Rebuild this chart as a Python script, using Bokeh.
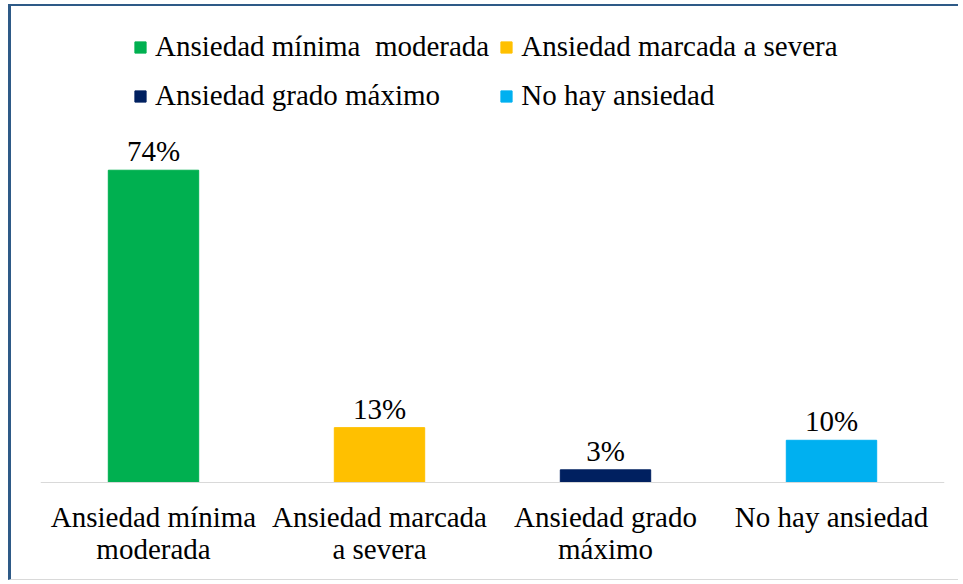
from bokeh.plotting import figure
from bokeh.models import ColumnDataSource, FactorRange, Range1d, Legend, LegendItem, Span
from bokeh.core.properties import value
from bokeh.embed import file_html
from bokeh.resources import INLINE

categories = ["Ansiedad mínima  moderada", "Ansiedad marcada a severa",
              "Ansiedad grado máximo", "No hay ansiedad"]
axis_labels = ["Ansiedad mínima\nmoderada", "Ansiedad marcada\na severa",
               "Ansiedad grado\nmáximo", "No hay ansiedad"]
values = [74, 13, 3, 10]
value_labels = ["74%", "13%", "3%", "10%"]
colors = ["#00B050", "#FFC000", "#002060", "#00B0F0"]
baseline = [0, 0, 0, 0]

FONT = "Liberation Serif"

src = ColumnDataSource(dict(cat=categories, val=values, lab=value_labels, col=colors,
                            axl=axis_labels, base=baseline))

p = figure(width=950, height=576, output_backend="svg", toolbar_location=None,
           x_range=FactorRange(factors=categories), y_range=Range1d(-23.7, 112.8),
           min_border_left=29, min_border_right=17, min_border_top=0,
           min_border_bottom=0)
p.styles = {"margin-left": "8px", "margin-top": "4px",
            "border-top": "2px solid #2E5A87", "border-left": "3px solid #2E5A87",
            "border-bottom": "1px solid #D9D9D9"}
p.outline_line_color = None
p.grid.visible = False
p.xaxis.visible = False
p.yaxis.visible = False

p.add_layout(Span(location=0, dimension="width", line_color="#D9D9D9", line_width=1))

r = p.vbar(x="cat", top="val", width=0.40, color="col", source=src)

p.text(x="cat", y="val", text="lab", source=src, text_align="center",
       text_baseline="alphabetic", y_offset=-19, text_font=value(FONT),
       text_font_size="29px", text_color="#000000")

p.text(x="cat", y="base", text="axl", source=src, text_align="center",
       text_baseline="top", y_offset=19, text_font=value(FONT),
       text_font_size="29px", text_color="#000000", text_line_height=0.98)

items = [LegendItem(label=c, renderers=[r], index=i) for i, c in enumerate(categories)]
legend = Legend(items=items, location=(93, 467), orientation="horizontal", ncols=2,
                glyph_width=14, glyph_height=14, label_height=39, label_standoff=8,
                spacing=10, padding=0, margin=0, border_line_color=None,
                background_fill_alpha=0, label_text_font=FONT,
                label_text_font_size="29px", label_text_color="#000000")
p.add_layout(legend, "center")

open("out.html", "w").write(file_html(p, INLINE))
